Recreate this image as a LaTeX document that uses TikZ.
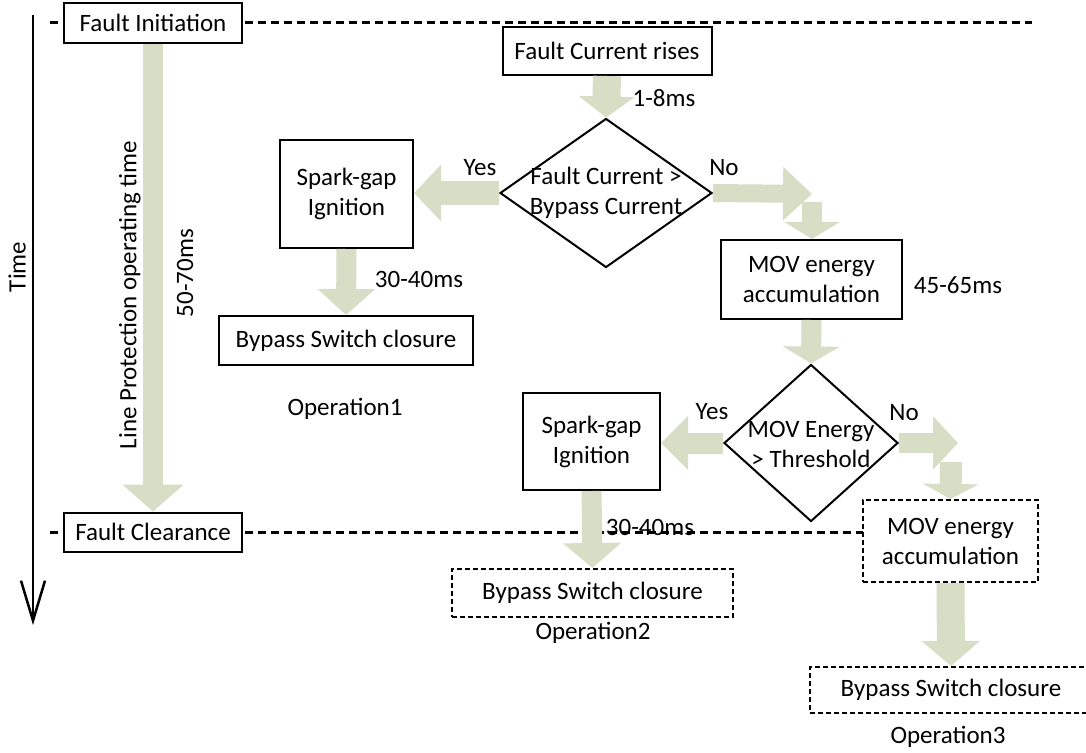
\documentclass[tikz,border=0pt]{standalone}
\usepackage{fontspec}
\setmainfont{Carlito}
\usetikzlibrary{arrows.meta,shapes.geometric}
\definecolor{arrowc}{RGB}{216,221,198}
\begin{document}
\begin{tikzpicture}[x=1pt,y=-1pt,
  every node/.style={font=\fontsize{25}{30}\selectfont, inner sep=0pt},
  box/.style={draw, line width=2pt, fill=white, align=center},
  dbox/.style={box, dash pattern=on 5pt off 3pt},
  dia/.style={draw, line width=2pt, diamond, fill=white, inner sep=0pt},
  lbl/.style={align=center},
  timeline/.style={line width=3pt, dash pattern=on 8pt off 5pt},
  barrow/.style args={#1/#2/#3}{draw=arrowc, line width=#1, -{Triangle[width=#2,length=#3]}},
]
\useasboundingbox (0,0) rectangle (1086,752);

% time line and event lines
\coordinate (ttop) at (33,15);
\coordinate (tbot) at (33,625);
\draw[line width=2.5pt, -{Straight Barb[length=40pt,width=24pt,line width=2.5pt]}] (ttop) -- (tbot);
\node[rotate=90] (tlab) at (17,267) {Time};

\coordinate (l1s) at (50,23);
\coordinate (l1e) at (1032,23);
\coordinate (l2s) at (50,532);
\coordinate (l2e) at (863,532);
\draw[timeline] (l1s) -- (l1e);
\draw[timeline] (l2s) -- (l2e);

% nodes
\node[box, minimum width=178pt, minimum height=40pt] (init) at (153,23) {Fault Initiation};
\node[box, minimum width=178pt, minimum height=39pt] (clear) at (153,532) {Fault Clearance};
\node[box, minimum width=209pt, minimum height=48pt] (rises) at (607,51) {Fault Current rises};
\node[dia, minimum width=212pt, minimum height=149pt] (d1) at (606,193) {};
\node[lbl] (d1t) at (d1.center) {Fault Current >\\Bypass Current};
\node[box, minimum width=133pt, minimum height=108pt] (spark1) at (346.5,194) {Spark-gap\\Ignition};
\node[box, minimum width=254pt, minimum height=49pt] (sw1) at (346,340.5) {Bypass Switch closure};
\node (op1) at (345,409) {Operation1};
\node[box, minimum width=181pt, minimum height=79pt] (mov1) at (811.5,279.5) {MOV energy\\accumulation};
\node[dia, minimum width=174pt, minimum height=157pt] (d2) at (811,443) {};
\node[lbl] (d2t) at (811,444) {MOV Energy\\> Threshold};
\node[box, minimum width=137pt, minimum height=97pt] (spark2) at (591.5,441.5) {Spark-gap\\Ignition};
\node[dbox, minimum width=175pt, minimum height=82pt] (mov2) at (950.5,541) {MOV energy\\accumulation};
\node[dbox, minimum width=281pt, minimum height=48pt] (sw2) at (592.5,593) {Bypass Switch closure};
\node (op2) at (593,633) {Operation2};
\node[dbox, minimum width=282pt, minimum height=46pt] (sw3) at (951,690) {Bypass Switch closure};
\node (op3) at (948,737) {Operation3};

% block arrows
\draw[barrow=20pt/60pt/27pt] (init.south) -- (clear.north);
\draw[barrow=28pt/55pt/21pt] (rises.south) -- (d1.north);
\draw[barrow=24pt/55pt/27pt] (d1.west) -- (spark1.east |- d1.west);
\draw[barrow=20pt/56pt/26pt] (spark1.south) -- (sw1.north);
\coordinate (n1) at (812,194);
\coordinate (n1b) at (812,202);
\draw[barrow=18pt/52pt/29pt] (d1.east) -- (n1);
\draw[barrow=20pt/55pt/17pt] (n1b) -- (mov1.north -| n1b);
\draw[barrow=20pt/56pt/17pt] (mov1.south) -- (d2.north);
\draw[barrow=21pt/52pt/27pt] (d2.west) -- (spark2.east |- d2.west);
\coordinate (n2) at (958,443);
\coordinate (n2b) at (951,462);
\draw[barrow=20pt/52pt/25pt] (d2.east) -- (n2);
\draw[barrow=22pt/55pt/15pt] (n2b) -- (mov2.north);
\draw[barrow=20pt/57pt/25pt] (spark2.south) -- (sw2.north);
\draw[barrow=28pt/57pt/25pt] (mov2.south) -- (sw3.north);

% labels
\node[rotate=90] (lp) at (130,295) {Line Protection operating time};
\node[rotate=90] (t5070) at (185,273) {50-70ms};
\node (t18) at (664,98) {1-8ms};
\node (y1) at (480,168) {Yes};
\node (no1) at (724,168) {No};
\node (t3040a) at (419,279) {30-40ms};
\node (t4565) at (958,285) {45-65ms};
\node (y2) at (712,412) {Yes};
\node (no2) at (904,413) {No};
\node (t3040b) at (650,527) {30-40ms};
\end{tikzpicture}
\end{document}
